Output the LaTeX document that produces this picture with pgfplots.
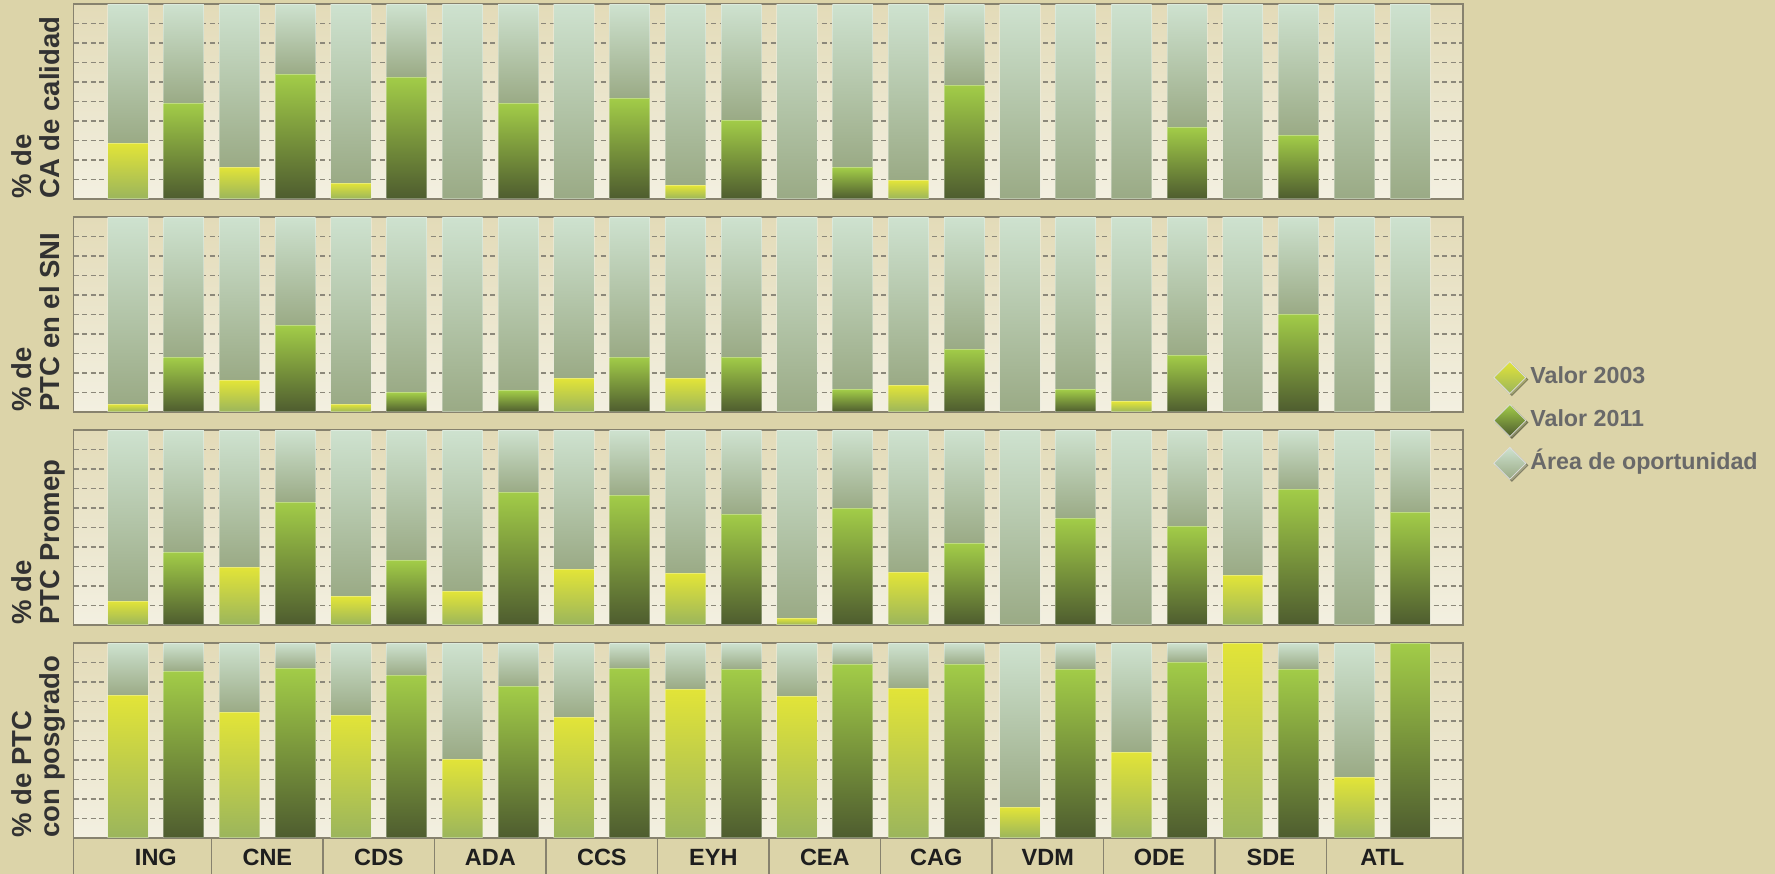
\documentclass[border=0pt]{standalone}
\usepackage{fontspec}
\setmainfont{Liberation Sans}
\usepackage{pgfplots}
\usepackage{pgfplotstable}
\pgfplotsset{compat=1.18}

\definecolor{bgc}{RGB}{220,212,169}
\definecolor{plottop}{RGB}{227,219,184}
\definecolor{plotbot}{RGB}{243,240,225}
\definecolor{framec}{RGB}{135,130,110}
\definecolor{gridc}{RGB}{140,136,122}
\definecolor{yTop}{RGB}{226,228,56}
\definecolor{yBot}{RGB}{155,181,92}
\definecolor{gTop}{RGB}{162,204,72}
\definecolor{gBot}{RGB}{78,92,47}
\definecolor{aTop}{RGB}{206,226,207}
\definecolor{aBot}{RGB}{154,170,133}
\definecolor{labc}{RGB}{50,50,50}
\definecolor{tickc}{RGB}{30,30,30}
\definecolor{legc}{RGB}{105,105,105}

% x: bar position (even = Valor 2003, odd = Valor 2011); v = value (%), r = area de oportunidad (%)
\pgfplotstableread{
x v r
0 28.6 71.4
1 49.0 51.0
2 16.3 83.7
3 63.7 36.3
4 8.2 91.8
5 62.5 37.5
6 0 100
7 49.0 51.0
8 0 100
9 51.6 48.4
10 6.7 93.3
11 40.5 59.5
12 0 100
13 16.0 84.0
14 9.4 90.6
15 58.3 41.7
16 0 100
17 0 100
18 0 100
19 36.7 63.3
20 0 100
21 32.6 67.4
22 0 100
23 0 100
}\tabCA

\pgfplotstableread{
x v r
0 4.0 96.0
1 27.8 72.2
2 16.0 84.0
3 44.2 55.8
4 4.0 96.0
5 9.8 90.2
6 0 100
7 11.0 89.0
8 17.2 82.8
9 28.2 71.8
10 17.2 82.8
11 28.2 71.8
12 0 100
13 11.5 88.5
14 13.7 86.3
15 32.3 67.7
16 0 100
17 11.5 88.5
18 5.3 94.7
19 28.9 71.1
20 0 100
21 50.3 49.7
22 0 100
23 0 100
}\tabSNI

\pgfplotstableread{
x v r
0 12.3 87.7
1 37.3 62.7
2 29.6 70.4
3 63.1 36.9
4 14.4 85.6
5 33.0 67.0
6 17.1 82.9
7 68.2 31.8
8 28.5 71.5
9 66.5 33.5
10 26.2 73.8
11 56.9 43.1
12 3.4 96.6
13 59.8 40.2
14 27.0 73.0
15 41.7 58.3
16 0 100
17 54.5 45.5
18 0 100
19 50.8 49.2
20 25.5 74.5
21 69.7 30.3
22 0 100
23 57.8 42.2
}\tabPROMEP

\pgfplotstableread{
x v r
0 73.0 27.0
1 85.5 14.5
2 64.3 35.7
3 87.0 13.0
4 63.1 36.9
5 83.4 16.6
6 40.5 59.5
7 77.6 22.4
8 61.7 38.3
9 87.0 13.0
10 76.5 23.5
11 86.7 13.3
12 72.9 27.1
13 88.9 11.1
14 76.8 23.2
15 88.9 11.1
16 15.8 84.2
17 86.7 13.3
18 44.1 55.9
19 90.1 9.9
20 100 0
21 86.7 13.3
22 31.0 69.0
23 100 0
}\tabPOS

\pgfplotsset{
  panel/.style={
    scale only axis, width=555.8pt, height=77.9pt,
    anchor=south west,
    xmin=-0.976, xmax=23.95, ymin=0, ymax=100,
    enlarge x limits=false, enlarge y limits=false,
    ybar stacked, bar width=0.72,
    stack negative/.try=on previous,
    ytick={10,20,30,40,50,60,70,80,90}, yticklabels={},
    ymajorgrids,
    major grid style={draw=gridc, line width=0.55pt, dash pattern=on 2pt off 1.4pt},
    major tick length=0pt,
    axis line style={draw=framec, line width=0.6pt},
    axis background/.style={top color=plottop, bottom color=plotbot},
    xtick=\empty,
    every axis y label/.style={at={(axis description cs:-0.0451,0)}, rotate=90,
      anchor=north west, align=left, inner sep=0pt,
      font=\bfseries\fontsize{11}{11.2}\selectfont, text=labc},
    legend image code/.code={%
      \fill[black, opacity=0.28] (7.2pt,-7.2pt) -- (13.6pt,-0.8pt) -- (7.2pt,5.6pt) -- (0.8pt,-0.8pt) -- cycle;
      \path[#1, draw=white!75!gray, draw opacity=1, line width=0.3pt] (6.4pt,-6.4pt) -- (12.8pt,0pt) -- (6.4pt,6.4pt) -- (0pt,0pt) -- cycle;
    },
  },
  baredge/.style={draw=white, draw opacity=0.3, line width=0.4pt},
  s03/.style={baredge, top color=yTop, bottom color=yBot},
  s11/.style={baredge, top color=gTop, bottom color=gBot},
  sar/.style={baredge, top color=aTop, bottom color=aBot},
  sreset/.style={draw=none, fill=none, stack dir=minus},
}

% one stack (value + area de oportunidad) per bar, so that each bar has its own gradient;
% an invisible bar subtracted from the stack brings it back to zero before the next bar
\newcommand\drawpanel[1]{%
  \pgfplotsforeachungrouped \i in {0,1,...,23}{%
    \pgfplotstablegetelem{\i}{v}\of{#1}\let\vv\pgfplotsretval
    \pgfplotstablegetelem{\i}{r}\of{#1}\let\rr\pgfplotsretval
    \ifodd\i\relax\def\sty{s11}\else\def\sty{s03}\fi
    \ifdim\vv pt>0pt\relax
      \edef\tmp{\noexpand\addplot[\sty] coordinates {(\i,\vv)};}\tmp
    \fi
    \ifdim\rr pt>0pt\relax
      \edef\tmp{\noexpand\addplot[sar] coordinates {(\i,\rr)};}\tmp
    \fi
    \edef\tmp{\noexpand\addplot[sreset] coordinates {(\i,100)};}\tmp
  }%
}

\begin{document}
\begin{tikzpicture}
\useasboundingbox (0,0) rectangle (710pt,349.6pt);
\fill[bgc] (0,0) rectangle (710pt,349.6pt);

% Panel 1
\begin{axis}[panel, at={(29.44pt,270.0pt)}, ylabel={\% de\\CA de calidad}]
\drawpanel{\tabCA}
\end{axis}

% Panel 2 (carries the legend)
\begin{axis}[panel, at={(29.44pt,184.8pt)}, ylabel={\% de\\PTC en el SNI},
  legend style={at={(1.0215,-0.049)}, anchor=west, draw=none, fill=none,
    inner sep=0pt, row sep=3.2pt,
    font=\bfseries\fontsize{9.3}{11}\selectfont, text=legc,
    nodes={inner sep=0.8pt, text height=7pt, text depth=2pt}},
  legend cell align=left]
\addlegendimage{s03}
\addlegendentry{Valor 2003}
\addlegendimage{s11}
\addlegendentry{Valor 2011}
\addlegendimage{sar}
\addlegendentry{Área de oportunidad}
\drawpanel{\tabSNI}
\end{axis}

% Panel 3
\begin{axis}[panel, at={(29.44pt,99.6pt)}, ylabel={\% de\\PTC Promep}]
\drawpanel{\tabPROMEP}
\end{axis}

% Panel 4
\begin{axis}[panel, at={(29.44pt,14.4pt)}, ylabel={\% de PTC\\con posgrado},
  xtick={0.5,2.5,4.5,6.5,8.5,10.5,12.5,14.5,16.5,18.5,20.5,22.5},
  xticklabels={ING,CNE,CDS,ADA,CCS,EYH,CEA,CAG,VDM,ODE,SDE,ATL},
  xtick pos=bottom, tick align=outside,
  minor xtick={-0.975,1.5,3.5,5.5,7.5,9.5,11.5,13.5,15.5,17.5,19.5,21.5,23.949},
  minor tick length=16pt,
  minor tick style={draw=framec, line width=0.6pt},
  xticklabel style={anchor=center, yshift=-7.6pt,
    font=\bfseries\fontsize{9.4}{10}\selectfont, text=tickc}]
\drawpanel{\tabPOS}
\end{axis}
\end{tikzpicture}
\end{document}
